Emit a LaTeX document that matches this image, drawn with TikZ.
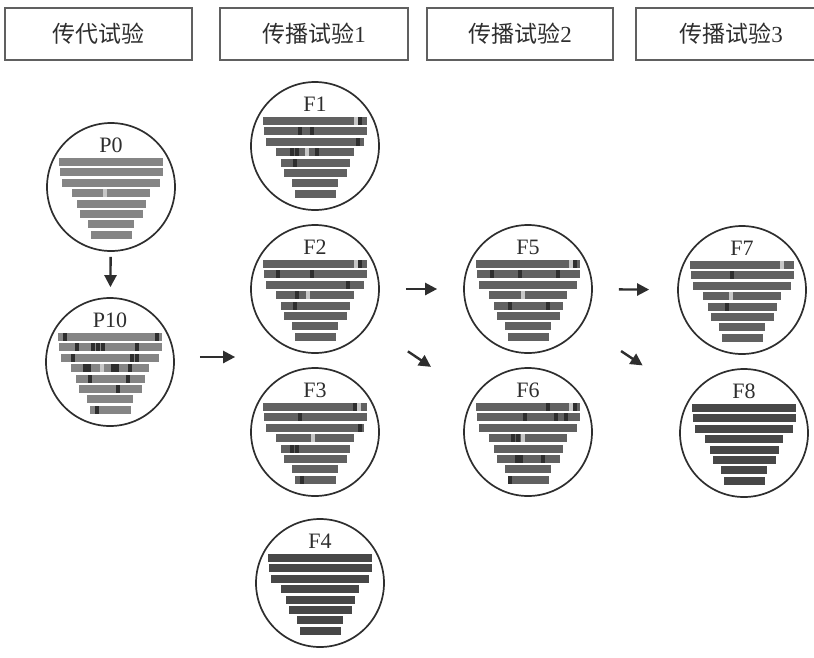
\documentclass[tikz,border=0pt]{standalone}
\usepackage{fontspec}
\setmainfont{Liberation Serif}
\newfontfamily\cjk{Noto Sans CJK SC}
\usetikzlibrary{calc,arrows.meta}

\definecolor{barlight}{gray}{0.52}
\definecolor{barmid}{gray}{0.38}
\definecolor{bardark}{gray}{0.28}
\definecolor{ink}{gray}{0.18}
\definecolor{spot}{gray}{0.18}
\definecolor{gap}{gray}{0.78}

\tikzset{
  stage/.style={draw=gray!75!black, line width=1.2pt, minimum height=52pt, inner sep=0pt, font=\fontsize{23}{25}\selectfont\cjk, text=ink},
  pool/.style={circle, draw=ink, line width=1.7pt, minimum size=128pt, inner sep=0pt},
  poolname/.style={font=\fontsize{22}{23}\selectfont, text=ink, inner sep=0pt},
  arr/.style={-{Triangle[length=12pt,width=12pt]}, line width=2.4pt, draw=ink},
}

% 圆圈 + 名称 + 八条带
\newcommand{\drawpool}[4]{%
  \node[pool] (#1) at (#2) {};
  \node[poolname] at ($(#1)+(0,42)$) {#3};
  \foreach \w [count=\i] in {104,103,98,78,69,63,46,41}
    \fill[#4] ($(#1)+({-\w/2},{39.4-10.4*\i})$) rectangle ++(\w,-8);
}
% 带上的斑点（行/横向偏移）
\newcommand{\bandspots}[3]{%
  \foreach \r/\d in {#3}
    \fill[#2] ($(#1)+({\d-2},{39.4-10.4*\r})$) rectangle ++(4,-8);
}

\begin{document}
\begin{tikzpicture}[x=1pt,y=1pt]
\clip (0,0) rectangle (814,-657);

% 标题框
\node[stage, minimum width=187pt] (s0) at (98.5,-34) {传代试验};
\node[stage, minimum width=188pt] (s1) at (314,-34) {传播试验{\rmfamily 1}};
\node[stage, minimum width=186pt] (s2) at (520,-34) {传播试验{\rmfamily 2}};
\node[stage, minimum width=190pt] (s3) at (731,-34) {传播试验{\rmfamily 3}};

% 各代
\drawpool{P0}{111,-187}{P0}{barlight}
\drawpool{P10}{110,-362}{P10}{barlight}
\drawpool{F1}{315,-146}{F1}{barmid}
\drawpool{F2}{315,-289}{F2}{barmid}
\drawpool{F3}{315,-432}{F3}{barmid}
\drawpool{F4}{320,-583}{F4}{bardark}
\drawpool{F5}{528,-289}{F5}{barmid}
\drawpool{F6}{528,-432}{F6}{barmid}
\drawpool{F7}{742,-290}{F7}{barmid}
\drawpool{F8}{744,-433}{F8}{bardark}

% 斑点与缺口
\bandspots{P0}{gap}{4/-6}
\bandspots{P10}{spot}{1/-45,1/47,2/-33,2/-17,2/-12,2/-7,2/27,3/-37,3/22,3/27,4/-25,4/-21,4/3,4/7,4/20,5/-20,5/18,6/8,8/-13}
\bandspots{P10}{gap}{4/-8}
\bandspots{F1}{spot}{1/45,2/-15,2/-3,3/43,4/-23,4/-18,4/2,5/-20}
\bandspots{F1}{gap}{1/41,4/-8}
\bandspots{F2}{spot}{1/45,2/-37,2/-3,3/33,4/-18,5/-20}
\bandspots{F2}{gap}{1/41,4/-7}
\bandspots{F3}{spot}{1/40,2/-15,3/45,5/-23,5/-18,8/-13}
\bandspots{F3}{gap}{1/44,4/-2}
\bandspots{F5}{spot}{1/47,2/-36,2/-8,2/30,5/-18,5/20}
\bandspots{F5}{gap}{1/43,4/-5}
\bandspots{F6}{spot}{1/20,1/47,2/-3,2/28,2/38,4/-15,4/-10,6/-11,6/-7,6/15,8/-18}
\bandspots{F6}{gap}{1/43,4/-5}
\bandspots{F7}{spot}{2/-10,5/-15}
\bandspots{F7}{gap}{1/40,4/-11}

% 箭头
\coordinate (col1) at ($(P10.east -| F3.west)+(0,5)$);
\draw[arr, shorten <=5pt, shorten >=10pt] (P0) -- (P10);
\draw[arr, shorten <=25pt, shorten >=15pt] ($(P10.east)+(0,5)$) -- (col1);
\draw[arr, shorten <=26pt, shorten >=26pt] (F2) -- (F5);
\draw[arr, shorten <=47pt, shorten >=52pt] (F2) -- (F6);
\draw[arr, shorten <=26pt, shorten >=28pt] (F5) -- (F7);
\draw[arr, shorten <=47pt, shorten >=57pt] (F5) -- (F8);

\end{tikzpicture}
\end{document}
